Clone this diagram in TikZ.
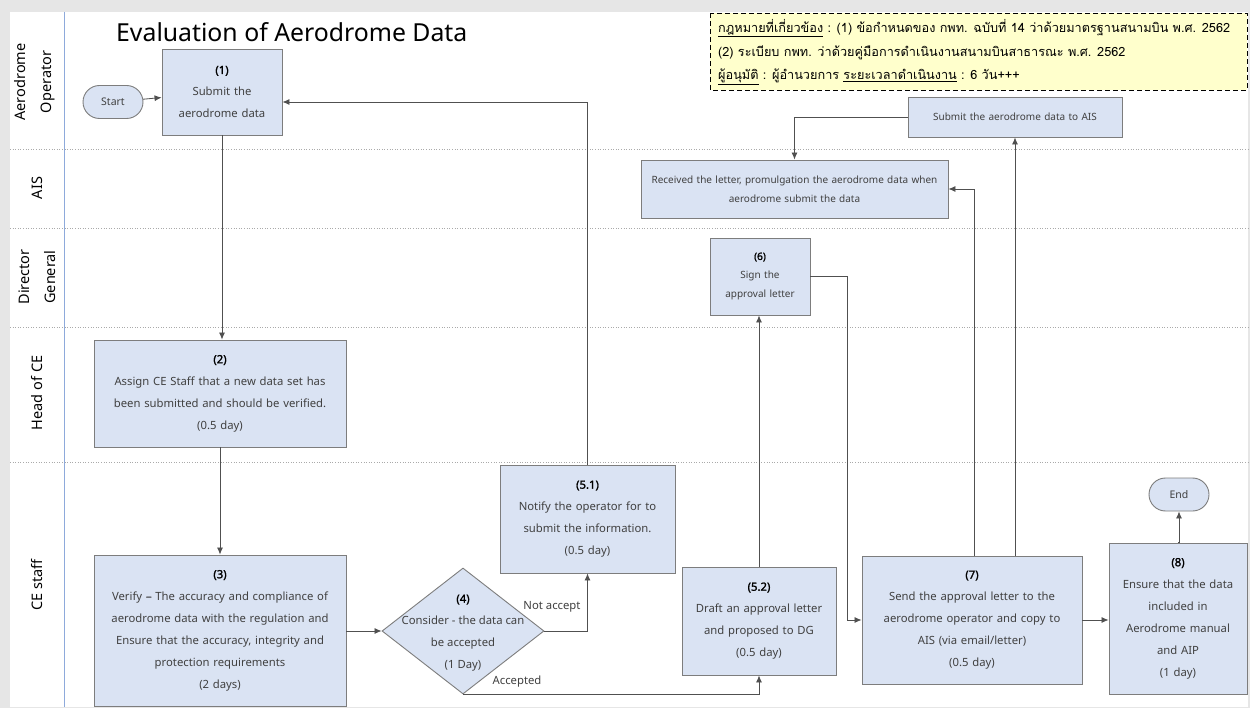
\documentclass[tikz,border=0pt]{standalone}
\usepackage{fontspec}
\setmainfont{Noto Sans}
\newfontfamily\thaifont[Script=Thai]{Loma}
\newfontfamily\numfont{Noto Sans}[FakeBold=1.6]
\usetikzlibrary{arrows.meta,shapes.geometric,shapes.misc}

\definecolor{pagegray}{RGB}{230,230,230}
\definecolor{boxfill}{RGB}{218,227,243}
\definecolor{boxline}{RGB}{125,125,125}
\definecolor{txt}{RGB}{64,64,64}
\definecolor{lnc}{RGB}{80,80,80}
\definecolor{laneblue}{RGB}{142,170,219}
\definecolor{lanegray}{RGB}{170,170,170}
\definecolor{notefill}{RGB}{255,255,204}

% step number printed above each step text
\newcommand{\stepno}[1]{\textcolor{black}{\numfont #1}}

\tikzset{
  proc/.style={draw=boxline, fill=boxfill, line width=0.9pt, align=center,
    inner sep=0pt, text=txt, font=\fontsize{11.3}{22}\selectfont},
  smallproc/.style={proc, font=\fontsize{10}{19}\selectfont},
  terminal/.style={draw=boxline, fill=boxfill, line width=0.9pt, rounded rectangle,
    minimum width=60pt, minimum height=33pt, inner sep=0pt, text=txt,
    font=\fontsize{10.5}{12}\selectfont},
  decision/.style={draw=boxline, fill=boxfill, line width=0.9pt, diamond,
    minimum width=162pt, minimum height=126pt, inner sep=0pt},
  arr/.style={draw=lnc, line width=0.8pt, -{Latex[length=7pt,width=6pt]}},
  lanelabel/.style={rotate=90, align=center, text=black,
    font=\fontsize{14.5}{26}\selectfont},
  edgelabel/.style={text=txt, font=\fontsize{11.3}{13}\selectfont, inner sep=0pt},
  noteline/.style={anchor=west, inner sep=0pt, text=black,
    font=\thaifont\fontsize{12.7}{15}\selectfont},
}

\begin{document}
\begin{tikzpicture}[x=1pt,y=-1pt]
  % page and margins
  \fill[pagegray] (0,0) rectangle (1250,708);
  \fill[white] (10,12) rectangle (1248,707);
  \useasboundingbox (0,0) rectangle (1250,708);

  % swimlanes
  \foreach \yy in {149,228,327,462}
    \draw[lanegray, line width=0.6pt, dotted] (10,\yy) -- (1248,\yy);
  \draw[laneblue, line width=0.8pt] (64,12) -- (64,707);

  \node[lanelabel] (laneAO) at (35,82) {Aerodrome\\Operator};
  \node[lanelabel] (laneAIS) at (37,188) {AIS};
  \node[lanelabel] (laneDG) at (37,277) {Director\\General};
  \node[lanelabel] (laneHead) at (37,393) {Head of CE};
  \node[lanelabel] (laneCE) at (37,585) {CE staff};

  % title
  \node[anchor=west, inner sep=0pt, font=\fontsize{24.8}{30}\selectfont] (title)
    at (116,32) {Evaluation of Aerodrome Data};

  % legal note
  \draw[black, line width=0.8pt, dash pattern=on 5pt off 3pt, fill=notefill] (710,13) rectangle (1247,90);
  \node[noteline] (note1) at (718,28) {\underline{กฎหมายที่เกี่ยวข้อง} : (1) ข้อกำหนดของ กพท. ฉบับที่ 14 ว่าด้วยมาตรฐานสนามบิน พ.ศ. 2562};
  \node[noteline] (note2) at (718,53) {(2) ระเบียบ กพท. ว่าด้วยคู่มือการดำเนินงานสนามบินสาธารณะ พ.ศ. 2562};
  \node[noteline] (note3) at (718,77) {\underline{ผู้อนุมัติ} : ผู้อำนวยการ \underline{ระยะเวลาดำเนินงาน} : 6 วัน+++};

  % process steps
  \node[terminal] (start) at (113,102) {Start};
  \node[proc, minimum width=120pt, minimum height=86pt, text width=114pt] (n1) at (222,92)
    {\stepno{(1)}\\Submit the\\aerodrome data};
  \node[proc, minimum width=252pt, minimum height=107pt, text width=246pt] (n2) at (220,393.5)
    {\stepno{(2)}\\Assign CE Staff that a new data set has\\been submitted and should be verified.\\(0.5 day)};
  \node[proc, minimum width=252pt, minimum height=151pt, text width=248pt] (n3) at (220,630.5)
    {\stepno{(3)}\\Verify {\numfont –} The accuracy and compliance of\\aerodrome data with the regulation and\\Ensure that the accuracy, integrity and\\protection requirements\\(2 days)};
  \node[decision] (n4) at (463,631) {};
  \node[align=center, inner sep=0pt, text=txt, font=\fontsize{11.3}{22}\selectfont] (n4text) at (463,633)
    {\stepno{(4)}\\Consider - the data can\\be accepted\\(1 Day)};
  \node[proc, minimum width=175pt, minimum height=108pt, text width=170pt] (n51) at (587.5,519)
    {\stepno{(5.1)}\\Notify the operator for to\\submit the information.\\(0.5 day)};
  \node[proc, minimum width=154pt, minimum height=108pt, text width=150pt] (n52) at (759,621)
    {\stepno{(5.2)}\\Draft an approval letter\\and proposed to DG\\(0.5 day)};
  \node[smallproc, minimum width=100pt, minimum height=77pt, text width=96pt] (n6) at (760,276.5)
    {\stepno{(6)}\\Sign the\\approval letter};
  \node[smallproc, minimum width=307pt, minimum height=58pt, text width=302pt] (rec) at (794.5,189)
    {Received the letter, promulgation the aerodrome data when\\aerodrome submit the data};
  \node[smallproc, minimum width=214pt, minimum height=40pt, text width=208pt] (ais) at (1015,117)
    {Submit the aerodrome data to AIS};
  \node[proc, minimum width=220pt, minimum height=128pt, text width=216pt] (n7) at (972,620)
    {\stepno{(7)}\\Send the approval letter to the\\aerodrome operator and copy to\\AIS (via email/letter)\\(0.5 day)};
  \node[proc, minimum width=138pt, minimum height=151pt, text width=134pt] (n8) at (1178,618.5)
    {\stepno{(8)}\\Ensure that the data\\included in\\Aerodrome manual\\and AIP\\(1 day)};
  \node[terminal] (end) at (1179,494.5) {End};

  % flow
  \draw[arr] (start) -- (n1);
  \draw[arr] (n1.south) -- (n1.south |- n2.north);
  \draw[arr] (n2.south) -- (n2.south |- n3.north);
  \draw[arr] (n4.west -| n3.east) -- (n4.west);
  \draw[arr] (n4.east) -| (n51.south);
  \draw[arr] (n4.south) -| (n52.south);
  \draw[arr] (n51.north) |- ([yshift=-10pt]n1.east);
  \draw[arr] (n52.north) -- (n52.north |- n6.south);
  \draw[arr] (n6.east) -- ++(37,0) |- (n7.west);
  \draw[arr] ([xshift=2pt]n7.north) |- (rec.east);
  \draw[arr] (ais.south |- n7.north) -- (ais.south);
  \draw[arr] (ais.west) -| (rec.north);
  \draw[arr] (n7.east) -- (n7.east -| n8.west);
  \draw[arr] (n8.north) -- (n8.north -| end.south) -- (end.south);

  % branch labels
  \node[edgelabel] (lblno) at (552,607) {Not accept};
  \node[edgelabel] (lblyes) at (517,682) {Accepted};
\end{tikzpicture}
\end{document}
